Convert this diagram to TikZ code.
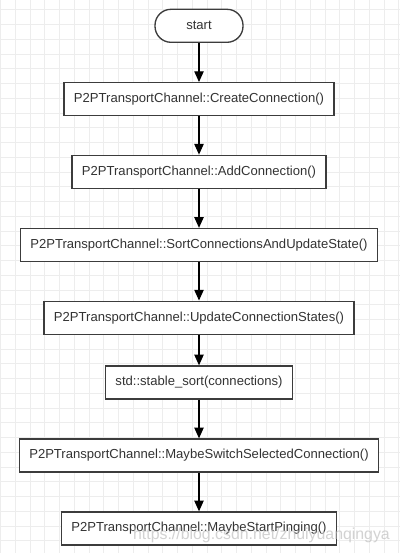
\documentclass[tikz,border=0pt]{standalone}
\usepackage{fontspec}
\setmainfont{Liberation Sans}
\usetikzlibrary{arrows.meta}
\definecolor{gridgray}{HTML}{EDEDED}
\definecolor{boxline}{HTML}{3C3C3C}
\definecolor{boxtext}{HTML}{333333}
\begin{document}
\begin{tikzpicture}[x=0.75pt, y=-0.75pt, >={Triangle[length=8pt, width=7pt]},
    callbox/.style={draw=boxline, line width=1pt, fill=white, text=boxtext,
        inner xsep=7.5pt, minimum height=24.75pt,
        font=\fontsize{9.8pt}{12pt}\selectfont},
    startbox/.style={callbox, rounded corners=12pt, minimum width=66pt},
    flow/.style={->, line width=0.8pt, black}]
    \useasboundingbox (0,0) rectangle (400,553);
    \fill[white] (0,0) rectangle (400,553);

    % background grid
    \foreach \gx in {0,...,27}
        \draw[gridgray, line width=0.75pt] (0.6+14.75*\gx,0) -- (0.6+14.75*\gx,553);
    \foreach \gy in {0,...,36}
        \draw[gridgray, line width=0.75pt] (0,9.9+14.75*\gy) -- (400,9.9+14.75*\gy);

    \node[startbox] (start) at (199,25.8) {start};
    \node[callbox] (create) at (199,99.2) {P2PTransportChannel::CreateConnection()};
    \node[callbox] (add) at (199,171.8) {P2PTransportChannel::AddConnection()};
    \node[callbox] (sort) at (199,245) {P2PTransportChannel::SortConnectionsAndUpdateState()};
    \node[callbox] (update) at (199,317.7) {P2PTransportChannel::UpdateConnectionStates()};
    \node[callbox] (stable) at (199,382.5) {std::stable\_sort(connections)};
    \node[callbox] (switch) at (199,455.5) {P2PTransportChannel::MaybeSwitchSelectedConnection()};
    \node[callbox] (ping) at (199,528.5) {P2PTransportChannel::MaybeStartPinging()};

    \draw[flow] (start) -- (create);
    \draw[flow] (create) -- (add);
    \draw[flow] (add) -- (sort);
    \draw[flow] (sort) -- (update);
    \draw[flow] (update) -- (stable);
    \draw[flow] (stable) -- (switch);
    \draw[flow] (switch) -- (ping);

    \node[text=black!25, opacity=0.7, font=\fontsize{11.9pt}{13pt}\selectfont]
        (mark) at (261.5,535) {https://blog.csdn.net/zhuiyuanqingya};
\end{tikzpicture}
\end{document}
